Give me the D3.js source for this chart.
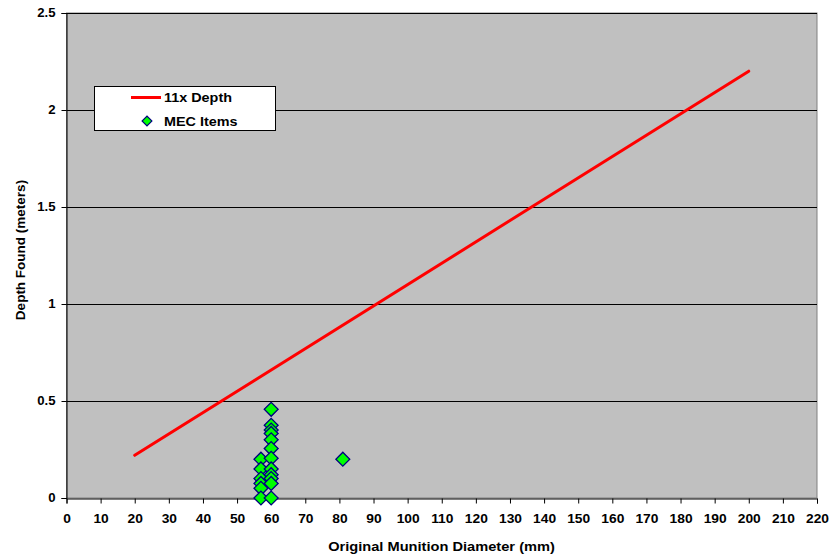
<!DOCTYPE html>
<html><head><meta charset="utf-8">
<script src="https://cdn.jsdelivr.net/npm/d3@7"></script>
<style>body{margin:0;background:#fff}svg{display:block}text{font-family:"Liberation Sans",Arial,sans-serif;font-weight:bold}</style>
</head><body><svg id="c" width="831" height="558"></svg>
<script>
const lineX = [20, 200];
const lineY = [0.22, 2.2];
const mecX = [57,57,57,57,57,57, 60,60,60,60,60,60,60,60,60,60,60,60, 81];
const mecY = [0.20,0.15,0.10,0.075,0.05,0.0, 0.457,0.375,0.35,0.333,0.30,0.255,0.205,0.15,0.12,0.10,0.075,0.0, 0.20];
const xTicks = d3.range(0, 221, 10);
const yTicks = [0, 0.5, 1, 1.5, 2, 2.5];
const yTickLabels = ["0","0.5","1","1.5","2","2.5"];

const svg = d3.select("#c");
const L = 66.5, R = 817, T = 13, B = 498;
const x = d3.scaleLinear().domain([0,220]).range([L,R]);
const y = d3.scaleLinear().domain([0,2.5]).range([B,T]);

svg.append("rect").attr("x",L).attr("y",T).attr("width",R-L).attr("height",B-T)
  .attr("fill","#C0C0C0").attr("stroke","#808080").attr("stroke-width",1);

svg.append("g").selectAll("line").data(yTicks.slice(1)).join("line")
  .attr("x1",L).attr("x2",R).attr("y1",d=>Math.round(y(d))+0.5).attr("y2",d=>Math.round(y(d))+0.5)
  .attr("stroke","#000").attr("stroke-width",1);

const xa = svg.append("g").attr("transform",`translate(0,${B+0.5})`)
  .call(d3.axisBottom(x).tickValues(xTicks).tickSize(5).tickPadding(11).tickFormat(d3.format("d")));
const ya = svg.append("g").attr("transform",`translate(${L},0)`)
  .call(d3.axisLeft(y).tickValues(yTicks).tickSize(5).tickPadding(6).tickFormat((d,i)=>yTickLabels[i]));
[xa,ya].forEach(a=>{a.select(".domain").attr("stroke","#000");a.selectAll(".tick line").attr("stroke","#000");
  a.selectAll("text").attr("fill","#000").style("font-size","12px").style("font-weight","bold").style("font-family","Liberation Sans, Arial, sans-serif");});
xa.selectAll(".tick text").attr("transform","scale(1.15,1)");
ya.selectAll(".tick text").attr("transform","scale(1.1,1)").attr("x",-11/1.1);

svg.append("path").datum(lineX.map((d,i)=>[d,lineY[i]]))
  .attr("d",d3.line().x(d=>x(d[0])).y(d=>y(d[1])))
  .attr("stroke","#FF0000").attr("stroke-width",3).attr("fill","none").attr("stroke-linecap","round");

const sq = d3.symbol().type(d3.symbolSquare).size(96);
svg.append("g").selectAll("path").data(mecX.map((d,i)=>[d,mecY[i]])).join("path")
  .attr("transform",d=>`translate(${x(d[0])},${y(d[1])}) rotate(45)`)
  .attr("d",sq).attr("fill","#00FF00").attr("stroke","#000080").attr("stroke-width",1.3);

// legend
const lg = svg.append("g");
lg.append("rect").attr("x",94.5).attr("y",86.5).attr("width",181).attr("height",44).attr("fill","#fff").attr("stroke","#000");
lg.append("line").attr("x1",131).attr("x2",161).attr("y1",97.5).attr("y2",97.5).attr("stroke","#FF0000").attr("stroke-width",3);
lg.append("text").attr("transform","translate(164,102) scale(1.2,1)").style("font-size","12px").text("11x Depth");
lg.append("path").attr("transform","translate(147,121) rotate(45)").attr("d",d3.symbol().type(d3.symbolSquare).size(48))
  .attr("fill","#00FF00").attr("stroke","#000080").attr("stroke-width",1.2);
lg.append("text").attr("transform","translate(164,125.5) scale(1.2,1)").style("font-size","12px").text("MEC Items");

svg.append("text").attr("transform","translate(441.5,551) scale(1.22,1)").attr("text-anchor","middle").style("font-size","12px").text("Original Munition Diameter (mm)");
svg.append("text").attr("transform","translate(25,250) rotate(-90)").attr("text-anchor","middle").style("font-size","13.5px").text("Depth Found (meters)");
</script></body></html>
